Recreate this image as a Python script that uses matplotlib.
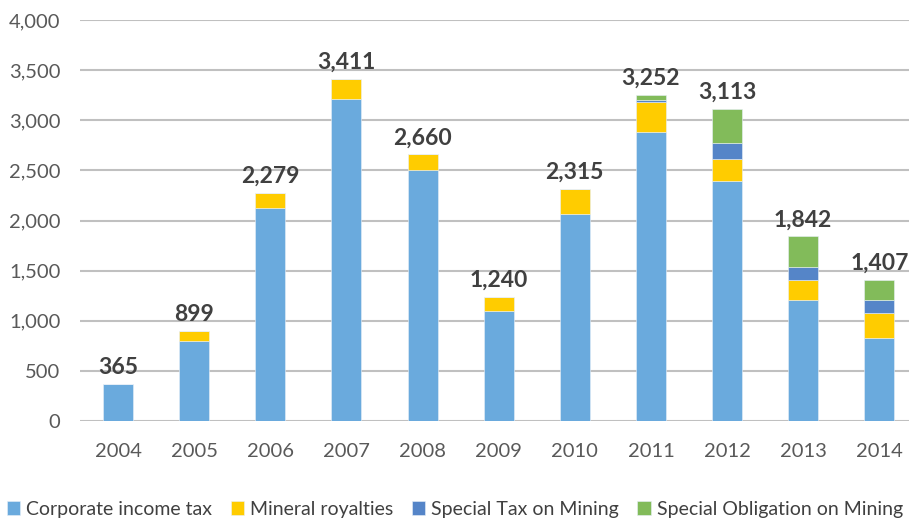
import numpy as np
import matplotlib.pyplot as plt

years = ['2004', '2005', '2006', '2007', '2008', '2009', '2010', '2011', '2012', '2013', '2014']
corporate = [365, 800, 2120, 3210, 2500, 1100, 2060, 2880, 2390, 1210, 830]
royalties = [0, 99, 159, 201, 160, 140, 255, 300, 220, 195, 245]
special_tax = [0, 0, 0, 0, 0, 0, 0, 25, 165, 135, 135]
special_obl = [0, 0, 0, 0, 0, 0, 0, 47, 338, 302, 197]
totals = [365, 899, 2279, 3411, 2660, 1240, 2315, 3252, 3113, 1842, 1407]

series = [
    ('Corporate income tax', corporate, '#6aaadd'),
    ('Mineral royalties', royalties, '#ffcc00'),
    ('Special Tax on Mining', special_tax, '#5585c8'),
    ('Special Obligation on Mining', special_obl, '#82bb5a'),
]

plt.rcParams['font.family'] = ['Lato', 'DejaVu Sans']

fig = plt.figure(figsize=(9.09, 5.22), dpi=100)
ax = fig.add_axes([80 / 909, 101 / 522, 829 / 909, 401 / 522])

x = np.arange(len(years))
bottom = np.zeros(len(years))
for name, vals, color in series:
    ax.bar(x, vals, 0.394, bottom=bottom, color=color, label=name,
           edgecolor='#e8f0f8', linewidth=0.4, zorder=3)
    bottom += np.array(vals)

for xi, t in zip(x, totals):
    ax.text(xi, bottom[xi] + 60, f'{t:,}', ha='center', va='bottom',
            fontsize=16.5, fontweight='bold', color='#404040')

ax.set_ylim(0, 4000)
ax.set_xlim(-0.5, 10.39)
ax.set_yticks(np.arange(0, 4001, 500))
ax.set_yticklabels([f'{v:,}' for v in range(0, 4001, 500)])
ax.set_xticks(x)
ax.set_xticklabels(years)
ax.yaxis.grid(True, color='#c0c0c0', linewidth=1.5, zorder=0)
ax.set_axisbelow(True)
for s in ax.spines.values():
    s.set_visible(False)
ax.tick_params(axis='both', length=0, labelsize=14.5, colors='#595959')
ax.tick_params(axis='y', pad=14)
ax.tick_params(axis='x', pad=16)

handles, labels = ax.get_legend_handles_labels()
fig.legend(handles, labels, loc='lower left', bbox_to_anchor=(-0.012, -0.025),
           ncol=4, frameon=False, fontsize=14, handlelength=0.7, handleheight=0.7,
           handletextpad=0.3, columnspacing=0.95, labelcolor='#404040')

fig.savefig('out.png', dpi=100)
